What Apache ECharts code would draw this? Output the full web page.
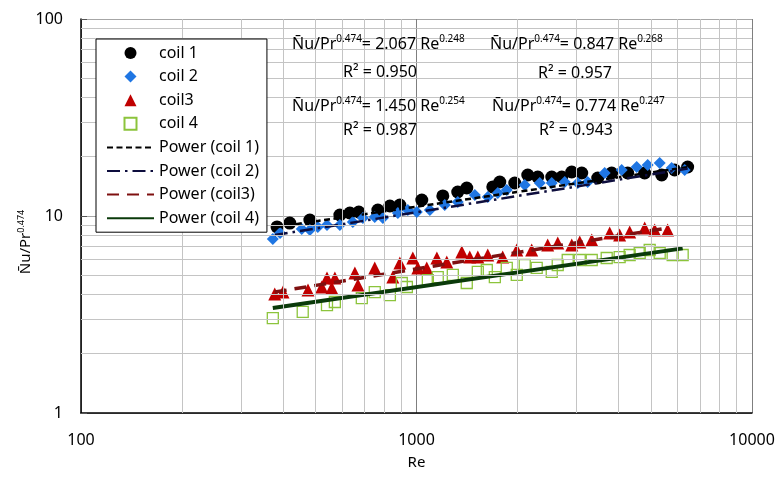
<!DOCTYPE html>
<html>
<head>
<meta charset="utf-8">
<script src="https://cdn.jsdelivr.net/npm/echarts@6/dist/echarts.min.js"></script>
<style>html,body{margin:0;padding:0;background:#fff;}#c{width:779px;height:495px;}</style>
</head>
<body>
<div id="c"></div>
<script>
// ---- data (Re, Nu/Pr^0.474) ----
const xTicks = [100, 1000, 10000];
const yTicks = [1, 10, 100];
const minorX = [200, 300, 400, 500, 600, 700, 800, 900, 2000, 3000, 4000, 5000, 6000, 7000, 8000, 9000];
const minorY = [2, 3, 4, 5, 6, 7, 8, 9, 20, 30, 40, 50, 60, 70, 80, 90];

const coil1 = [[384,8.80],[419,9.21],[481,9.54],[591,10.12],[633,10.36],[673,10.48],[767,10.73],[833,11.24],[892,11.37],
  [1037,12.06],[1198,12.64],[1327,13.24],[1412,13.87],[1688,14.04],[1771,14.88],[1963,14.71],[2146,16.15],[2298,15.78],
  [2530,15.78],[2710,15.78],[2902,16.73],[3108,16.53],[3469,15.59],[3817,16.53],[4260,16.53],[4787,16.53],[5380,16.15],
  [5881,17.12],[6430,17.73]];
const coil2 = [[373,7.64],[392,8.20],[455,8.59],[481,8.49],[508,8.80],[541,9.00],[591,9.00],[646,9.32],[692,9.77],[751,9.88],
  [794,9.77],[880,10.36],[942,10.73],[1002,10.48],[1096,10.73],[1214,11.37],[1327,11.78],[1492,12.79],[1631,12.49],[1747,13.09],
  [1858,13.55],[2102,14.37],[2330,14.71],[2530,14.71],[2766,14.88],[3024,14.71],[3238,14.88],[3638,16.53],[4088,17.12],
  [4532,17.73],[4887,18.15],[5307,18.58],[5761,17.52],[6300,17.12]];
const coil3 = [[378,4.02],[400,4.11],[475,4.21],[522,4.36],[541,4.85],[559,4.31],[571,4.85],[655,5.14],[669,4.46],[751,5.45],
  [850,4.90],[892,5.77],[975,6.12],[1009,5.45],[1073,5.45],[1150,6.12],[1231,5.84],[1365,6.57],[1441,6.19],[1523,6.19],
  [1631,6.34],[1807,6.19],[1990,6.72],[2205,6.72],[2461,7.12],[2636,7.29],[2902,7.12],[3066,7.38],[3329,7.55],[3765,8.20],
  [4032,8.01],[4319,8.29],[4787,8.69],[5128,8.49],[5605,8.49]];
const coil4 = [[373,3.03],[458,3.26],[541,3.53],[571,3.66],[687,3.83],[751,4.11],[833,3.97],[904,4.57],[936,4.36],[1081,4.73],
  [1157,4.90],[1283,5.02],[1412,4.57],[1523,5.20],[1620,5.32],[1712,4.90],[1858,5.45],[1990,5.02],[2102,5.64],[2282,5.45],
  [2530,5.20],[2636,5.64],[2823,5.98],[3066,5.98],[3329,5.98],[3689,6.12],[4032,6.19],[4319,6.34],[4627,6.49],[4955,6.72],
  [5307,6.49],[5801,6.34],[6214,6.34]];
// power-law trend lines (end points)
const fit1 = [[384,8.8],[6430,17.7]];
const fit2 = [[378,8.0],[6430,17.4]];
const fit3 = [[378,4.11],[5605,8.7]];
const fit4 = [[373,3.41],[6214,6.85]];

const seriesNames = ['coil 1','coil 2','coil3','coil 4','Power (coil 1)','Power (coil 2)','Power (coil3)','Power (coil 4)'];
const equations = [
  {a:'2.067', b:'0.248', r:'0.950'},
  {a:'0.847', b:'0.268', r:'0.957'},
  {a:'1.450', b:'0.254', r:'0.987'},
  {a:'0.774', b:'0.247', r:'0.943'}
];

const FONT = 'Noto Sans';
const chart = echarts.init(document.getElementById('c'), null, {renderer:'canvas'});

const rich = {
  m: {fontSize: 16, fontFamily: FONT, color: '#000', lineHeight: 20, verticalAlign: 'middle'},
  s: {fontSize: 10, fontFamily: FONT, color: '#000', lineHeight: 20, verticalAlign: 'top'}
};
const richName = {
  m: {fontSize: 15, fontFamily: FONT, color: '#000', lineHeight: 19, verticalAlign: 'middle'},
  s: {fontSize: 9, fontFamily: FONT, color: '#000', lineHeight: 19, verticalAlign: 'top'}
};
function eqText(e){
  return '{m|N\u0304u/Pr}{s|0.474}{m|= ' + e.a + ' Re}{s|' + e.b + '}';
}
const eqPos = [[292,45,380,72],[490,45,575,73],[292,107,380,130],[492,107,576,130]];
const graphics = [];
equations.forEach((e,i)=>{
  const p = eqPos[i];
  graphics.push({type:'text', left:p[0], top:p[1]-11, z:100, style:{text:eqText(e), rich:rich, fill:'#000'}});
  graphics.push({type:'text', x:p[2], y:p[3], z:100, style:{text:'R\u00b2 = ' + e.r, fontSize:16, fontFamily:FONT, fill:'#000', align:'center', verticalAlign:'middle'}});
});
// y-axis title
graphics.push({type:'text', x:26, y:242, rotation:Math.PI/2, z:100,
  style:{text:'{m|N\u0304u/Pr}{s|0.474}', rich:richName, align:'center', verticalAlign:'middle'}});

const diamondIcon = 'path://M0,-1L1,0L0,1L-1,0Z';
const triangleIcon = 'path://M0,-1L1,1L-1,1Z';
const squareIcon = 'path://M-1,-1L1,-1L1,1L-1,1Z';
const noSymbol = {opacity: 0, color: 'rgba(0,0,0,0)', borderWidth: 0};

const option = {
  animation: false,
  backgroundColor: '#fff',
  grid: {left: 81, right: 27, top: 19, bottom: 82, containLabel: false},
  legend: {
    orient: 'vertical', left: 96, top: 39,
    data: [
      {name: seriesNames[0], icon: 'circle'},
      {name: seriesNames[1], icon: diamondIcon},
      {name: seriesNames[2], icon: triangleIcon},
      {name: seriesNames[3], icon: squareIcon},
      {name: seriesNames[4], itemStyle: noSymbol},
      {name: seriesNames[5], itemStyle: noSymbol},
      {name: seriesNames[6], itemStyle: noSymbol},
      {name: seriesNames[7], itemStyle: noSymbol}
    ],
    symbolKeepAspect: true,
    itemWidth: 47, itemHeight: 12, itemGap: 7.6,
    padding: [6, 8, 6, 10],
    borderColor: '#000', borderWidth: 1, backgroundColor: '#fff',
    textStyle: {fontSize: 16, lineHeight: 16, fontFamily: FONT, color: '#000'},
    z: 50
  },
  xAxis: {
    type: 'log', logBase: 10, min: xTicks[0], max: xTicks[xTicks.length-1],
    name: 'Re', nameLocation: 'middle', nameGap: 42,
    nameTextStyle: {fontSize: 15, fontFamily: FONT, color: '#000'},
    axisLine: {show: true, onZero: false, lineStyle: {color: '#000', width: 1.5}},
    axisTick: {show: false},
    axisLabel: {fontSize: 16, fontFamily: FONT, color: '#000', margin: 19, formatter: v => String(Math.round(v))},
    splitLine: {show: true, lineStyle: {color: '#7f7f7f', width: 1}}
  },
  yAxis: {
    type: 'log', logBase: 10, min: yTicks[0], max: yTicks[yTicks.length-1],
    axisLine: {show: true, onZero: false, lineStyle: {color: '#000', width: 1.5}},
    axisTick: {show: true, inside: true, length: 6, lineStyle: {color: '#555'}},
    axisLabel: {fontSize: 16, fontFamily: FONT, color: '#000', margin: 18, formatter: v => String(Math.round(v))},
    splitLine: {show: true, lineStyle: {color: '#a6a6a6', width: 1}}
  },
  graphic: graphics,
  series: [
    {
      name: '__grid', type: 'line', data: [], symbol: 'none', silent: true, z: 1,
      markLine: {
        silent: true, symbol: ['none','none'], label: {show: false}, animation: false,
        lineStyle: {color: '#c4c4c4', width: 1, type: 'solid'},
        emphasis: {disabled: true},
        data: minorX.map(v=>({xAxis: v})).concat(minorY.map(v=>({yAxis: v})))
      }
    },
    {name: seriesNames[0], type: 'scatter', data: coil1, symbol: 'circle', symbolSize: 13,
      itemStyle: {color: '#000', opacity: 1}},
    {name: seriesNames[1], type: 'scatter', data: coil2, symbol: 'diamond', symbolSize: 12,
      itemStyle: {color: '#1f76e3', opacity: 1}},
    {name: seriesNames[2], type: 'scatter', data: coil3, symbol: 'triangle', symbolSize: 13,
      itemStyle: {color: '#c00000', opacity: 1}},
    {name: seriesNames[3], type: 'scatter', data: coil4, symbol: 'rect', symbolSize: 11,
      itemStyle: {color: 'rgba(0,0,0,0)', borderColor: '#8cc43c', borderWidth: 1.3, opacity: 1}},
    {name: seriesNames[4], type: 'line', data: fit1, symbol: 'none', showSymbol: false,
      lineStyle: {color: '#000', width: 2.5, type: [6, 3.5]}, itemStyle: {color: '#000'}},
    {name: seriesNames[5], type: 'line', data: fit2, symbol: 'none', showSymbol: false,
      lineStyle: {color: '#0d0d3d', width: 2.5, type: [13, 5, 2.5, 5]}, itemStyle: {color: '#0d0d3d'}},
    {name: seriesNames[6], type: 'line', data: fit3, symbol: 'none', showSymbol: false,
      lineStyle: {color: '#7f1010', width: 3.5, type: [12, 8]}, itemStyle: {color: '#7f1010'}},
    {name: seriesNames[7], type: 'line', data: fit4, symbol: 'none', showSymbol: false,
      lineStyle: {color: '#0a3a0a', width: 4}, itemStyle: {color: '#0a3a0a'}}
  ]
};
chart.setOption(option);
</script>
</body>
</html>
